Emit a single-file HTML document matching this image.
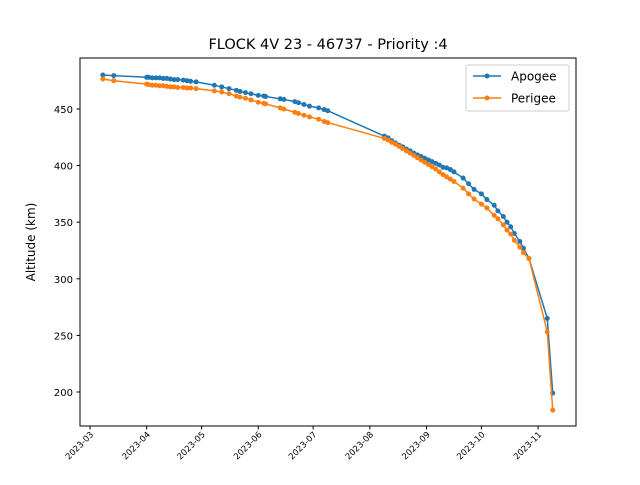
<!DOCTYPE html>
<html><head><meta charset="utf-8"><style>
body{margin:0;background:#fff;font-family:"Liberation Sans","DejaVu Sans",sans-serif}
</style></head><body>
<svg id="chart" width="640" height="480" xmlns="http://www.w3.org/2000/svg" font-family="DejaVu Sans, Liberation Sans, sans-serif">
<rect width="640" height="480" fill="#fff"/>
<text x="328" y="49" text-anchor="middle" font-size="14.5">FLOCK 4V 23 - 46737 - Priority :4</text>
<text transform="translate(35,242) rotate(-90)" text-anchor="middle" font-size="12">Altitude (km)</text>
<g id="plot"></g>
<rect x="80" y="58" width="496" height="368" fill="none" stroke="#000" stroke-width="1"/>
<g>
<rect x="466" y="65" width="103" height="46" fill="#fff" stroke="#ccc" rx="2"/>
<line x1="473" y1="76" x2="501" y2="76" stroke="#1f77b4" stroke-width="1.5"/><circle cx="487" cy="76" r="2.5" fill="#1f77b4"/>
<text x="511" y="80.5" font-size="12">Apogee</text>
<line x1="473" y1="98" x2="501" y2="98" stroke="#ff7f0e" stroke-width="1.5"/><circle cx="487" cy="98" r="2.5" fill="#ff7f0e"/>
<text x="511" y="102.5" font-size="12">Perigee</text>
</g>
</svg>
<script>
const tickDays=[0,31,61,92,122,153,184,214,245];
const tickLabels=["2023-03","2023-04","2023-05","2023-06","2023-07","2023-08","2023-09","2023-10","2023-11"];
const yTicks=[200,250,300,350,400,450];
const apoDays=[7,13,31,32,34,36,38,40,42,44,46,48,51,53,55,58,68,72,76,80,82,85,88,92,95,96,104,106,112,114,117,120,125,128,130,161,163,165,167,169,171,173,175,177,179,181,183,185,187,189,191,193,195,197,199,204,207,210,214,217,221,223,226,228,230,232,235,237,240,250,253];
const apoAlt=[480,479.5,478,478,477.5,477.5,477.5,477,477,476.5,476,476,475.5,475,474.5,474,471,469.5,468,466.5,465.5,464.5,463.5,462,461.5,461,459,458.5,456.5,455.5,454,452.5,451,449.5,448.5,426,424.5,422,420,418,416.5,414.5,413,411,409.5,408,406.5,405,403.5,402,400.5,398.5,398,396.5,394.5,389,384,379,375,370,365,360,355,350,346,340,333,327,318,265,199];
const periDays=[7,13,31,32,34,36,38,40,42,44,46,48,51,53,55,58,68,72,76,80,82,85,88,92,95,96,104,106,112,114,117,120,125,128,130,161,163,165,167,169,171,173,175,177,179,181,183,185,187,189,191,193,195,197,199,204,207,210,214,217,221,223,226,228,230,232,235,237,240,250,253];
const periAlt=[476.5,475,472,471.5,471,471,470.5,470.5,470,469.5,469.5,469,469,468.5,468.5,468,466,465,463.5,461.5,460.5,459.5,458,456,455,454.5,451,450,447,446,444.5,443,441,439,438,424,422.5,420.5,419,417,415,413,411,409,407,405,403,401,399,397,394.5,392,390,388,386,380,375,370.5,366,362.5,356,353,347.5,343,339.5,334,328,323,318,253,184];
const X=d=>90+d*1.829;
const Y=v=>109-(v-450)*1.132;
const NS="http://www.w3.org/2000/svg";
const g=document.getElementById('plot');
function mk(t,a){const e=document.createElementNS(NS,t);for(const k in a)e.setAttribute(k,a[k]);g.appendChild(e);return e;}
tickDays.forEach((d,i)=>{
  const x=X(d);
  const l=mk('line',{x1:x,y1:426,x2:x,y2:429.5,stroke:'#000'});
  
  
  const t=mk('text',{transform:`translate(${x+4},${435}) rotate(-45)`,'text-anchor':'end','font-size':'8.5'});
  
  
  t.textContent=tickLabels[i];
});
yTicks.forEach(v=>{
  const y=Y(v);
  const l=mk('line',{x1:76.5,y1:y,x2:80,y2:y,stroke:'#000'});
  
  
  const t=mk('text',{x:73,y:y+4,'text-anchor':'end','font-size':'10'});
  
  
  t.textContent=v;
});
function series(days,alts,color,name){
  const p=mk('polyline',{points:days.map((d,i)=>X(d)+','+Y(alts[i])).join(' '),fill:'none',stroke:color,'stroke-width':1.5});
  
  
  days.forEach((d,i)=>{
    const c=mk('circle',{cx:X(d),cy:Y(alts[i]),r:2.5,fill:color});
    
    
  });
}
series(apoDays,apoAlt,'#1f77b4','apogee');
series(periDays,periAlt,'#ff7f0e','perigee');
</script>
</body></html>
